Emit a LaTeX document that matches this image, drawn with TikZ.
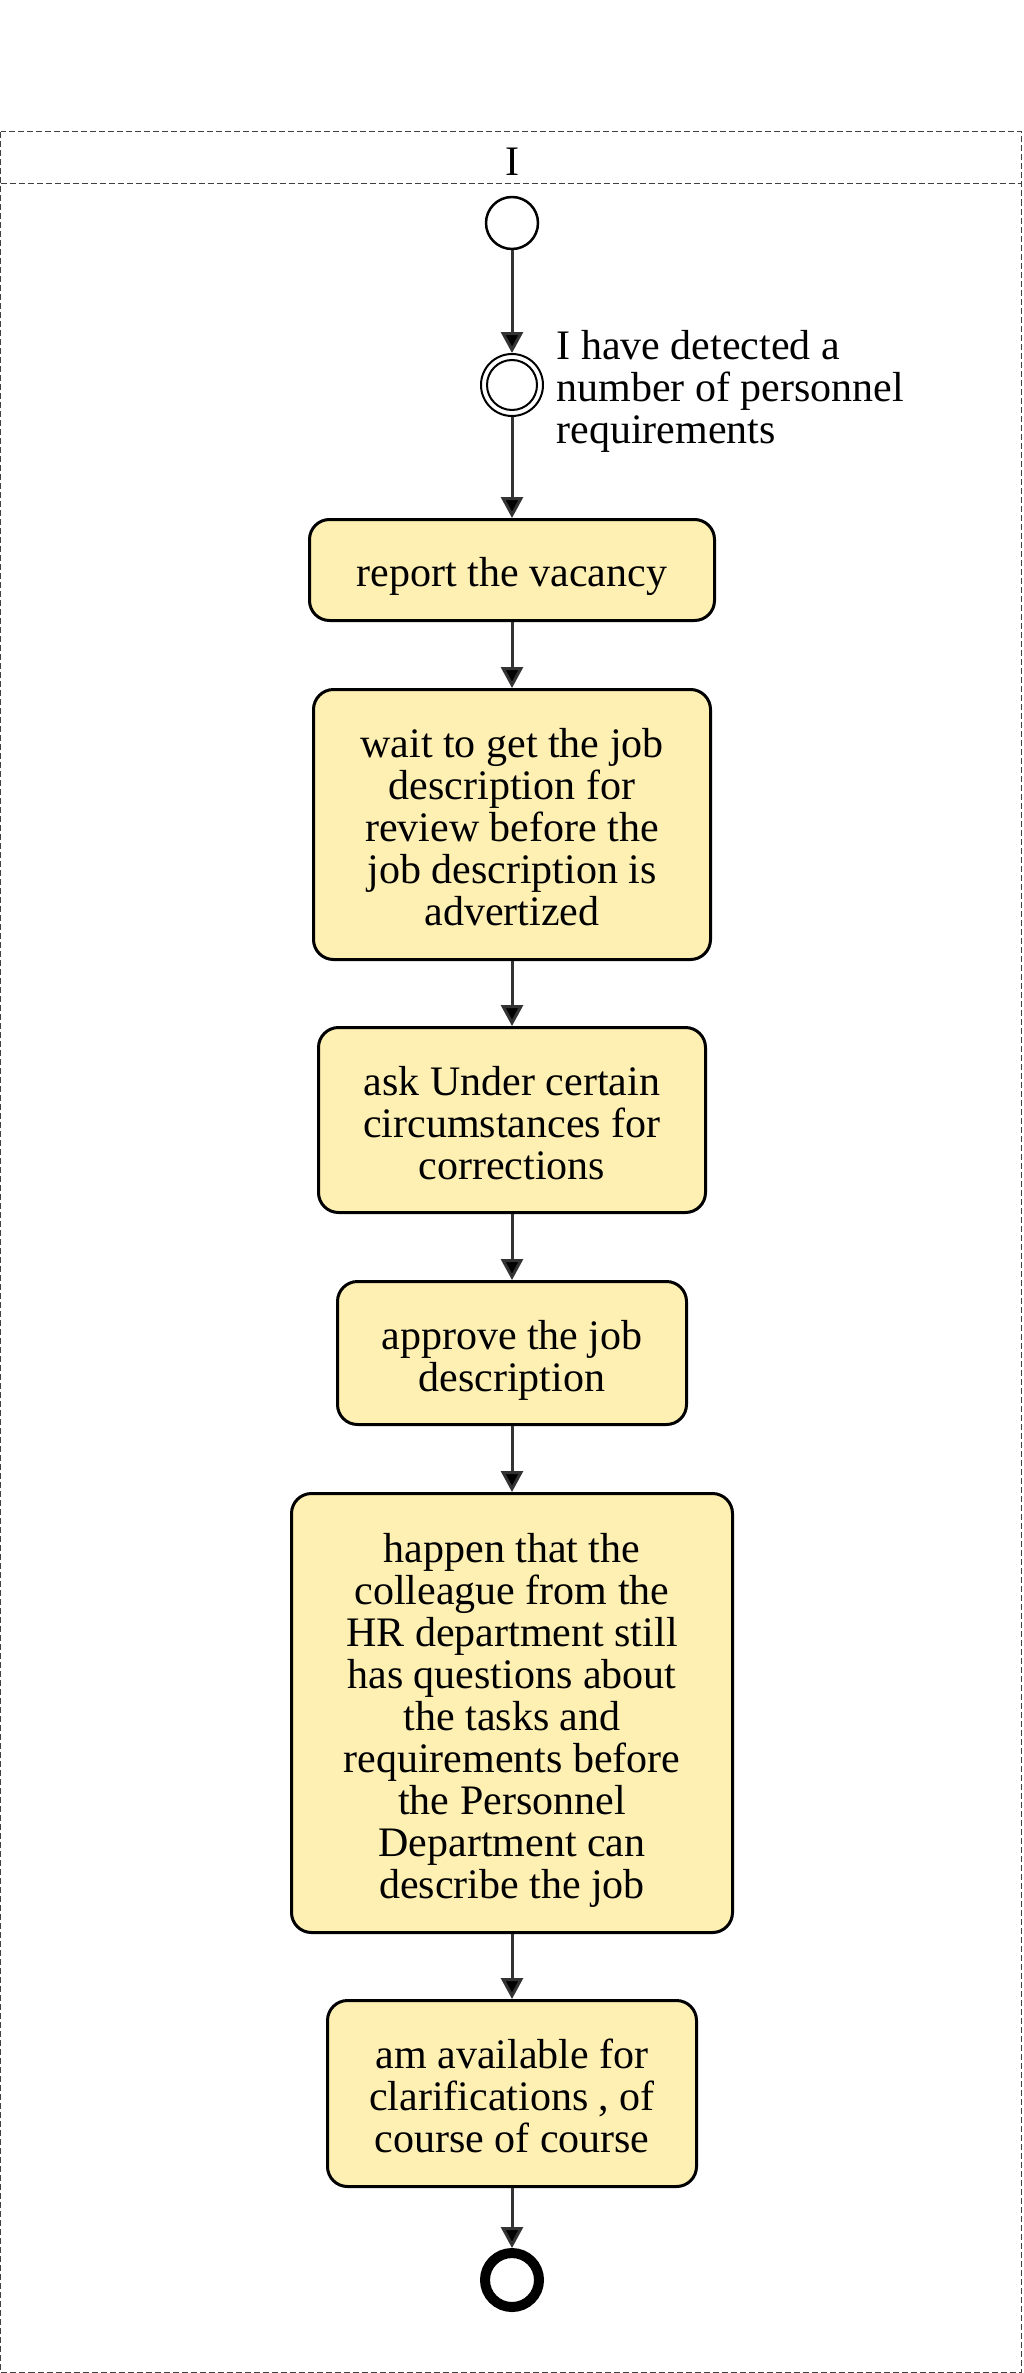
\documentclass[tikz,border=0pt]{standalone}
\usepackage{fontspec}
\setmainfont{Liberation Serif}
\usetikzlibrary{arrows.meta}
\definecolor{taskfill}{HTML}{FEEFB3}
\definecolor{flowgray}{HTML}{333333}
\newcommand\mytopstrut{\rule{0pt}{43pt}}
\newcommand\mybotstrut{\rule[-9pt]{0pt}{9pt}}
\begin{document}
\begin{tikzpicture}[x=1pt,y=-1pt,
  txt/.style={font=\fontsize{42}{42}\selectfont},
  task/.style={txt, draw=black, line width=3pt, fill=taskfill, rounded corners=20pt, align=center, inner sep=0pt},
  flow/.style={draw=flowgray, line width=3pt, -{Triangle[width=22pt,length=21pt,fill=black]}},
  lanebox/.style={draw=black!75, line width=1pt, dash pattern=on 6pt off 3pt},
  startev/.style={circle, draw=black, line width=2.5pt, minimum size=52pt, inner sep=0pt},
  midev/.style={circle, draw=black, line width=2pt, minimum size=62pt, inner sep=0pt},
  endev/.style={circle, draw=black, line width=10pt, minimum size=54pt, inner sep=0pt}]
\useasboundingbox (0,0) rectangle (1024,2373);
\draw[lanebox] (0.5,132) rectangle (1021,2372);
\draw[lanebox] (0.5,184) -- (1021,184);
\node[txt] (lanetitle) at (512,162) {I};
\node[startev] (start) at (512,223) {};
\node[midev] (mid) at (512,385) {};
\draw[line width=2pt] (mid.center) circle (25pt);
\node[txt, anchor=west, align=left] (midlabel) at (553,391) {I have detected a\\number of personnel\\requirements};
\node[task, minimum width=405pt, minimum height=101pt] (t1) at (512,570) {\mytopstrut report the vacancy\mybotstrut};
\node[task, minimum width=397pt, minimum height=270pt] (t2) at (512,824.5) {\mytopstrut wait to get the job\\description for\\review before the\\job description is\\advertized\mybotstrut};
\node[task, minimum width=387pt, minimum height=185pt] (t3) at (512,1120) {\mytopstrut ask Under certain\\circumstances for\\corrections\mybotstrut};
\node[task, minimum width=349pt, minimum height=143pt] (t4) at (512,1353) {\mytopstrut approve the job\\description\mybotstrut};
\node[task, minimum width=441pt, minimum height=439pt] (t5) at (512,1713) {\mytopstrut happen that the\\colleague from the\\HR department still\\has questions about\\the tasks and\\requirements before\\the Personnel\\Department can\\describe the job\mybotstrut};
\node[task, minimum width=369pt, minimum height=186pt] (t6) at (512,2093.5) {\mytopstrut am available for\\clarifications , of\\course of course\mybotstrut};
\node[endev] (end) at (512,2280) {};
\draw[flow] (start) -- (mid);
\draw[flow] (mid) -- (t1);
\draw[flow] (t1) -- (t2);
\draw[flow] (t2) -- (t3);
\draw[flow] (t3) -- (t4);
\draw[flow] (t4) -- (t5);
\draw[flow] (t5) -- (t6);
\draw[flow] (t6) -- (end);
\end{tikzpicture}
\end{document}
